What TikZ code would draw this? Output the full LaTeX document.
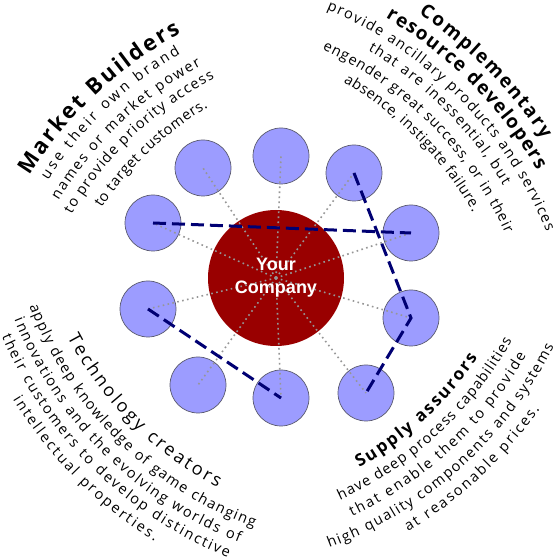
\documentclass[tikz,border=0pt]{standalone}
\usepackage{fontspec}
\setmainfont{Open Sans}
\newfontfamily\blockfont{Open Sans}
\newfontfamily\logofont{Liberation Sans}
\usetikzlibrary{decorations.text,calc}
\definecolor{ballblue}{RGB}{156,156,255}
\definecolor{hubred}{RGB}{153,0,0}
\definecolor{routenavy}{RGB}{0,0,115}
\definecolor{spokegrey}{RGB}{150,150,150}
\definecolor{rimgrey}{RGB}{90,90,110}
% fonts of the curved texts
\newcommand{\headtxt}[1]{\blockfont\bfseries\fontsize{#1}{#1}\selectfont}
\newcommand{\bodytxt}[1]{\blockfont\fontsize{#1}{#1}\selectfont}
\tikzset{
  ball/.style={circle, draw=rimgrey, line width=0.7pt, fill=ballblue,
    minimum size=56pt, inner sep=0pt},
  hub/.style={circle, fill=hubred, minimum size=136pt, inner sep=0pt},
  spoke/.style={spokegrey, line width=1.6pt, dash pattern=on 1.6pt off 3.4pt},
  route/.style={routenavy, line width=3pt, dash pattern=on 13pt off 6pt},
  arctext/.style={decorate, decoration={text along path,
    text align={fit to path}, text={#1}}}
}
\begin{document}
\begin{tikzpicture}[x=1pt, y=1pt]
    \useasboundingbox (0,0) rectangle (557,559);
    % Hub and partner circles
    \node[hub] (hub) at (276,281) {};
    \node[ball] (c1) at (203,391) {};
    \node[ball] (c2) at (281,403) {};
    \node[ball] (c3) at (354,386) {};
    \node[ball] (c4) at (411,326) {};
    \node[ball] (c5) at (411,241) {};
    \node[ball] (c6) at (366,166) {};
    \node[ball] (c7) at (281,161) {};
    \node[ball] (c8) at (198,174) {};
    \node[ball] (c9) at (148,250) {};
    \node[ball] (c10) at (153,336) {};
    % Dotted spokes
    \foreach \i in {1,...,10}
      \draw[spoke] (hub.center) -- (c\i.center);
    % Dashed routes
    \draw[route] (c10.center) -- (c4.center);
    \draw[route] (c3.center) -- (c5.center) -- (c6.center);
    \draw[route] (c9.center) -- (c7.center);
    % Hub label
    \node[font=\logofont\bfseries\fontsize{18}{23}\selectfont, text=white,
      align=center] (yours) at (hub.center) {Your\\Company};
    % Market Builders, upper left
    \coordinate (mb) at (375,168);
    \path[arctext={|\headtxt{22}|Market Builders}]
      ($(mb)+(148:407)$) arc[start angle=148, end angle=118.5, radius=407];
    \path[arctext={|\bodytxt{14.5}|use their own brand}]
      ($(mb)+(147.2:389)$) arc[start angle=147.2, end angle=120, radius=389];
    \path[arctext={|\bodytxt{14.5}|names or market power}]
      ($(mb)+(149:369)$) arc[start angle=149, end angle=118.1, radius=369];
    \path[arctext={|\bodytxt{14.5}|to provide priority access}]
      ($(mb)+(149.8:351)$) arc[start angle=149.8, end angle=117.2, radius=351];
    \path[arctext={|\bodytxt{14.5}|to target customers.}]
      ($(mb)+(146.2:329)$) arc[start angle=146.2, end angle=120.5, radius=329];
    % Complementary resource developers, upper right
    \coordinate (crd) at (169.93,174.93);
    \path[arctext={|\headtxt{19}|Complementary}]
      ($(crd)+(56.1:446)$) arc[start angle=56.1, end angle=33.3, radius=446];
    \path[arctext={|\headtxt{19}|resource developers}]
      ($(crd)+(59.5:425)$) arc[start angle=59.5, end angle=30.2, radius=425];
    \path[arctext={|\bodytxt{14.5}|provide ancillary products and services}]
      ($(crd)+(67.3:406)$) arc[start angle=67.3, end angle=22, radius=406];
    \path[arctext={|\bodytxt{14.5}|that are inessential, but}]
      ($(crd)+(59.3:388)$) arc[start angle=59.3, end angle=30.8, radius=388];
    \path[arctext={|\bodytxt{14.5}|engender great success, or in their}]
      ($(crd)+(65.5:367.5)$) arc[start angle=65.5, end angle=24.2, radius=367.5];
    \path[arctext={|\bodytxt{14.5}|absence, instigate failure.}]
      ($(crd)+(60.1:348)$) arc[start angle=60.1, end angle=29.5, radius=348];
    % Technology creators, lower left
    \coordinate (tc) at (382.07,386.07);
    \path[arctext={|\bodytxt{18}|Technology creators}]
      ($(tc)+(207.6:355)$) arc[start angle=207.6, end angle=242.4, radius=355];
    \path[arctext={|\bodytxt{14.5}|apply deep knowledge of game changing}]
      ($(tc)+(200.7:377)$) arc[start angle=200.7, end angle=250.1, radius=377];
    \path[arctext={|\bodytxt{14.5}|innovations and the evolving worlds of}]
      ($(tc)+(201.8:396)$) arc[start angle=201.8, end angle=248.8, radius=396];
    \path[arctext={|\bodytxt{14.5}|their customers to develop distinctive}]
      ($(tc)+(203.3:414)$) arc[start angle=203.3, end angle=248.1, radius=414];
    \path[arctext={|\bodytxt{14.5}|intellectual properties.}]
      ($(tc)+(211.5:433)$) arc[start angle=211.5, end angle=238.3, radius=433];
    % Supply assurors, lower right
    \coordinate (sa) at (183.4,399.5);
    \path[arctext={|\headtxt{17}|Supply assurors}]
      ($(sa)+(299.7:355)$) arc[start angle=299.7, end angle=326, radius=355];
    \path[arctext={|\bodytxt{14.5}|have deep process capabilities}]
      ($(sa)+(294.7:375)$) arc[start angle=294.7, end angle=331.2, radius=375];
    \path[arctext={|\bodytxt{14.5}|that enable them to provide}]
      ($(sa)+(295.3:395)$) arc[start angle=295.3, end angle=330.2, radius=395];
    \path[arctext={|\bodytxt{14.5}|high quality components and systems}]
      ($(sa)+(290.6:415)$) arc[start angle=290.6, end angle=333.2, radius=415];
    \path[arctext={|\bodytxt{14.5}|at reasonable prices.}]
      ($(sa)+(301.1:435)$) arc[start angle=301.1, end angle=325, radius=435];
\end{tikzpicture}
\end{document}
